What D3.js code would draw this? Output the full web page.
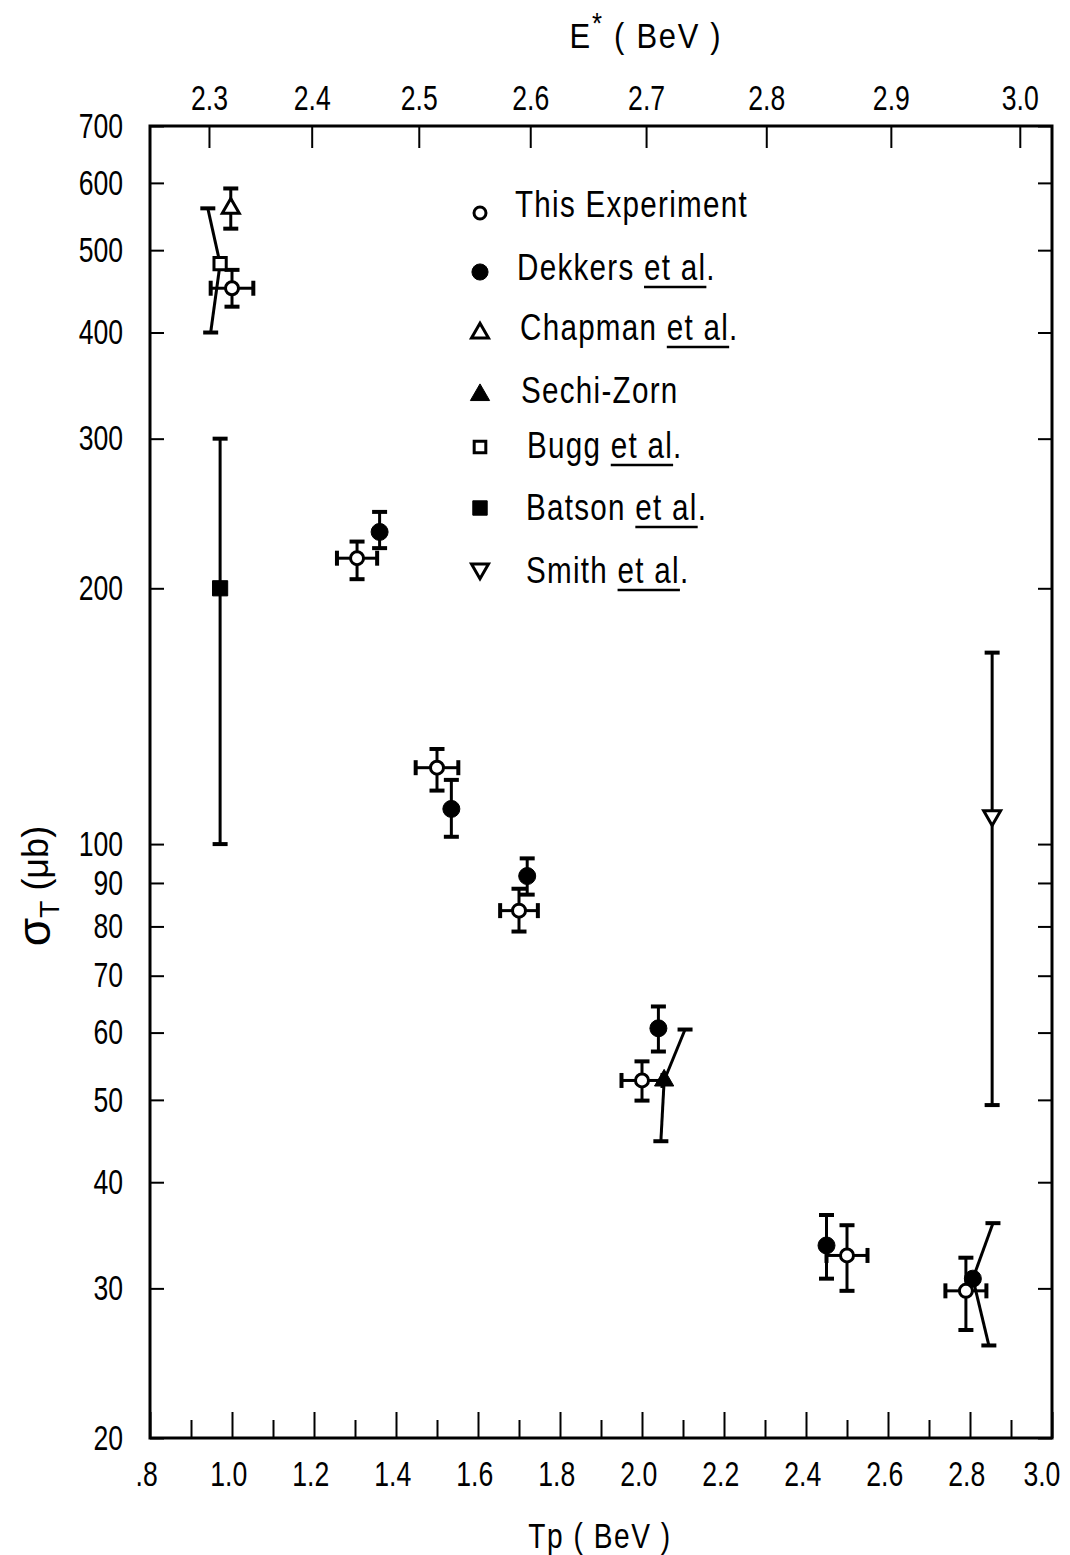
<!DOCTYPE html>
<html>
<head>
<meta charset="utf-8">
<script src="https://cdn.jsdelivr.net/npm/d3@7"></script>
<style>
  html, body { margin: 0; background: #fff; }
  svg { display: block; font-family: "Liberation Sans", Arial, sans-serif; }
</style>
</head>
<body>
<svg id="chart" width="1070" height="1555"></svg>
<script>
// ---- axis ticks ----
const tpMajor = [0.8, 1.0, 1.2, 1.4, 1.6, 1.8, 2.0, 2.2, 2.4, 2.6, 2.8, 3.0];
const tpMajorLabels = [".8", "1.0", "1.2", "1.4", "1.6", "1.8", "2.0", "2.2", "2.4", "2.6", "2.8", "3.0"];
const tpMinor = [0.9, 1.1, 1.3, 1.5, 1.7, 1.9, 2.1, 2.3, 2.5, 2.7, 2.9];
const eStarTicks = [2.3, 2.4, 2.5, 2.6, 2.7, 2.8, 2.9, 3.0];
const eStarLabels = ["2.3", "2.4", "2.5", "2.6", "2.7", "2.8", "2.9", "3.0"];
const sigmaTicks = [20, 30, 40, 50, 60, 70, 80, 90, 100, 200, 300, 400, 500, 600, 700];
const sigmaLabels = ["20", "30", "40", "50", "60", "70", "80", "90", "100", "200", "300", "400", "500", "600", "700"];
const protonMass = 0.938; // GeV

// ---- measurements: Tp (BeV), sigma (µb), error ends (lo/hi), optional slanted ends ----
const thisExperiment = [
  { tp: 1.00,  s: 451,  lo: 429,  hi: 474,   dtp: 0.052 },
  { tp: 1.305, s: 217,  lo: 205,  hi: 227,   dtp: 0.049 },
  { tp: 1.50,  s: 123,  lo: 115.6, hi: 129.4, dtp: 0.052 },
  { tp: 1.70,  s: 83.5, lo: 78.9, hi: 88.6,  dtp: 0.046 },
  { tp: 2.00,  s: 52.7, lo: 49.9, hi: 55.5,  dtp: 0.05 },
  { tp: 2.50,  s: 32.8, lo: 29.8, hi: 35.6,  dtp: 0.05 },
  { tp: 2.79,  s: 29.8, lo: 26.8, hi: 32.6,  dtp: 0.05 }
];
const dekkers = [
  { tp: 1.36,  s: 233,  lo: 223,  hi: 246 },
  { tp: 1.535, s: 110,  lo: 102,  hi: 119 },
  { tp: 1.72,  s: 91.7, lo: 87.2, hi: 96.2 },
  { tp: 2.04,  s: 60.7, lo: 57.0, hi: 64.4 },
  { tp: 2.45,  s: 33.7, lo: 30.8, hi: 36.6 },
  { tp: 2.807, s: 30.8, lo: 25.7, loTp: 2.846, hi: 35.8, hiTp: 2.856 }
];
const chapman = [
  { tp: 0.997, s: 560, lo: 530, hi: 591 }
];
const sechiZorn = [
  { tp: 2.054, s: 52.7, lo: 44.7, loTp: 2.046, hi: 60.5, hiTp: 2.105 }
];
const bugg = [
  { tp: 0.971, s: 482, lo: 400, loTp: 0.948, hi: 560, hiTp: 0.941 }
];
const batson = [
  { tp: 0.971, s: 200, lo: 100, hi: 300 }
];
const smith = [
  { tp: 2.854, s: 108, lo: 49.3, hi: 168 }
];

const legendNames = ["This Experiment", "Dekkers et al.", "Chapman et al.", "Sechi-Zorn", "Bugg et al.", "Batson et al.", "Smith et al."];

// ---- layout ----
const svg = d3.select("#chart");
const frameLeft = 150, frameRight = 1052, frameTop = 126, frameBottom = 1438;

const x = d3.scaleLinear().domain([0.8, 3.0]).range([frameLeft, frameRight]);
const y = d3.scaleLog().domain([20, 700]).range([frameBottom, frameTop]);

// centre-of-mass energy -> proton kinetic energy on a fixed target
const eStarToTp = e => (e * e - 4 * protonMass * protonMass) / (2 * protonMass);

// narrow lettering: squeeze a text horizontally about its own x position
function condense(sel, k) {
  sel.each(function () {
    const x0 = +(this.getAttribute("x") || 0);
    d3.select(this).attr("transform", `translate(${x0 * (1 - k)},0) scale(${k},1)`);
  });
}

function styleAxis(g) {
  g.select(".domain").remove();
  g.selectAll(".tick line").attr("stroke", "#000").attr("stroke-width", 2);
  g.selectAll(".tick text").attr("fill", "#000").attr("font-size", 35)
    .attr("font-family", "\"Liberation Sans\", Arial, sans-serif");
}

// bottom axis: Tp
const tpLabel = new Map(tpMajor.map((v, i) => [v, tpMajorLabels[i]]));
svg.append("g").attr("transform", `translate(0,${frameBottom})`)
  .call(d3.axisBottom(x).tickValues(tpMajor).tickFormat(d => tpLabel.get(d)).tickSize(-26).tickPadding(23))
  .call(styleAxis)
  .call(g => g.selectAll(".tick text")
    .attr("dx", (d, i, n) => i === n.length - 1 ? -14 : -5)
    .call(condense, 0.76));
svg.append("g").attr("transform", `translate(0,${frameBottom})`)
  .call(d3.axisBottom(x).tickValues(tpMinor).tickFormat("").tickSize(-18))
  .call(styleAxis);

// top axis: E*
const eLabel = new Map(eStarTicks.map((v, i) => [eStarToTp(v), eStarLabels[i]]));
svg.append("g").attr("transform", `translate(0,${frameTop})`)
  .call(d3.axisTop(x).tickValues(eStarTicks.map(eStarToTp)).tickFormat(d => eLabel.get(d)).tickSize(-22).tickPadding(16))
  .call(styleAxis)
  .call(g => g.selectAll(".tick text").call(condense, 0.76));

// left / right axes: sigma
const sLabel = new Map(sigmaTicks.map((v, i) => [v, sigmaLabels[i]]));
svg.append("g").attr("transform", `translate(${frameLeft},0)`)
  .call(d3.axisLeft(y).tickValues(sigmaTicks).tickFormat(d => sLabel.get(d)).tickSize(-14).tickPadding(27))
  .call(styleAxis)
  .call(g => g.selectAll(".tick text").call(condense, 0.76));
svg.append("g").attr("transform", `translate(${frameRight},0)`)
  .call(d3.axisRight(y).tickValues(sigmaTicks).tickFormat("").tickSize(-14))
  .call(styleAxis);

// frame
svg.append("rect").attr("x", frameLeft).attr("y", frameTop)
  .attr("width", frameRight - frameLeft).attr("height", frameBottom - frameTop)
  .attr("fill", "none").attr("stroke", "#000").attr("stroke-width", 3);

// axis titles
const topTitle = svg.append("text").attr("x", 646).attr("y", 48).attr("text-anchor", "middle")
  .attr("font-size", 36).attr("letter-spacing", 2);
topTitle.append("tspan").text("E");
topTitle.append("tspan").text("*").attr("font-size", 30).attr("dy", -15);
topTitle.append("tspan").text(" ( BeV )").attr("dy", 15);
topTitle.call(condense, 0.86);

svg.append("text").attr("x", 600).attr("y", 1548).attr("text-anchor", "middle")
  .attr("font-size", 36).attr("letter-spacing", 2).text("Tp ( BeV )")
  .call(condense, 0.78);

const yTitle = svg.append("text").attr("transform", "translate(50,886) rotate(-90)")
  .attr("text-anchor", "middle");
yTitle.append("tspan").text("σ").attr("font-size", 46);
yTitle.append("tspan").text("T").attr("font-size", 28).attr("dy", 9);
yTitle.append("tspan").text(" (μb)").attr("font-size", 36).attr("dy", -11);

// ---- markers ----
const shapes = {
  openCircle:   { type: d3.symbolCircle,   size: Math.PI * 6.5 * 6.5, fill: "#fff", rot: 0 },
  filledCircle: { type: d3.symbolCircle,   size: Math.PI * 8.5 * 8.5, fill: "#000", rot: 0 },
  openTri:      { type: d3.symbolTriangle, size: 125, fill: "#fff", rot: 0 },
  filledTri:    { type: d3.symbolTriangle, size: 160, fill: "#000", rot: 0 },
  openSquare:   { type: d3.symbolSquare,   size: 150, fill: "#fff", rot: 0 },
  filledSquare: { type: d3.symbolSquare,   size: 230, fill: "#000", rot: 0 },
  openDownTri:  { type: d3.symbolTriangle, size: 125, fill: "#fff", rot: 180 }
};

function drawMarker(g, shape, cx, cy, scale = 1) {
  const sp = shapes[shape];
  g.append("path")
    .attr("d", d3.symbol().type(sp.type).size(sp.size * scale)())
    .attr("transform", `translate(${cx},${cy}) rotate(${sp.rot})`)
    .attr("fill", sp.fill)
    .attr("stroke", "#000")
    .attr("stroke-width", sp.fill === "#fff" ? 3 : 1);
}

const capHalf = 7.5;
const barsLayer = svg.append("g").attr("stroke", "#000").attr("fill", "none");
const markLayer = svg.append("g");

function drawSeries(data, shape) {
  data.forEach(d => {
    const cx = x(d.tp), cy = y(d.s);
    const ends = [
      [x(d.loTp ?? d.tp), y(d.lo)],
      [x(d.hiTp ?? d.tp), y(d.hi)]
    ];
    ends.forEach(([ex, ey]) => {
      barsLayer.append("line").attr("x1", cx).attr("y1", cy).attr("x2", ex).attr("y2", ey).attr("stroke-width", 3);
      barsLayer.append("line").attr("x1", ex - capHalf).attr("x2", ex + capHalf).attr("y1", ey).attr("y2", ey).attr("stroke-width", 4);
    });
    if (d.dtp) {
      [x(d.tp - d.dtp), x(d.tp + d.dtp)].forEach(ex => {
        barsLayer.append("line").attr("x1", cx).attr("y1", cy).attr("x2", ex).attr("y2", cy).attr("stroke-width", 3);
        barsLayer.append("line").attr("x1", ex).attr("x2", ex).attr("y1", cy - capHalf).attr("y2", cy + capHalf).attr("stroke-width", 4);
      });
    }
    drawMarker(markLayer, shape, cx, cy);
  });
}

drawSeries(batson, "filledSquare");
drawSeries(bugg, "openSquare");
drawSeries(chapman, "openTri");
drawSeries(smith, "openDownTri");
drawSeries(sechiZorn, "filledTri");
drawSeries(dekkers, "filledCircle");
drawSeries(thisExperiment, "openCircle");

// ---- legend ----
const legendShapes = ["openCircle", "filledCircle", "openTri", "filledTri", "openSquare", "filledSquare", "openDownTri"];
const legendScale = [0.85, 0.9, 1, 1, 0.9, 0.9, 1];
const legendRowY = [213, 272, 333, 395, 447, 508, 569];
const legendTextX = [515, 517, 520, 521, 527, 526, 526];
const legendBaseline = [217, 280, 340, 403, 458, 520, 583];
const legendSqueeze = 0.8;
const legend = svg.append("g");
legendNames.forEach((name, i) => {
  drawMarker(legend, legendShapes[i], 480, legendRowY[i], legendScale[i]);
  const x0 = legendTextX[i];
  const t = legend.append("text").attr("x", x0).attr("y", legendBaseline[i])
    .attr("font-size", 37).attr("letter-spacing", 1.6).text(name);
  const node = t.node();
  const k = name.indexOf("et al");
  let u0 = null, u1 = null;
  if (k >= 0) {
    u0 = node.getStartPositionOfChar(k).x;
    u1 = node.getEndPositionOfChar(k + 4).x;
  }
  t.call(condense, legendSqueeze);
  if (u0 !== null) {
    legend.append("line")
      .attr("x1", x0 + (u0 - x0) * legendSqueeze).attr("x2", x0 + (u1 - x0) * legendSqueeze)
      .attr("y1", legendBaseline[i] + 7).attr("y2", legendBaseline[i] + 7)
      .attr("stroke", "#000").attr("stroke-width", 2.5);
  }
});
</script>
</body>
</html>
